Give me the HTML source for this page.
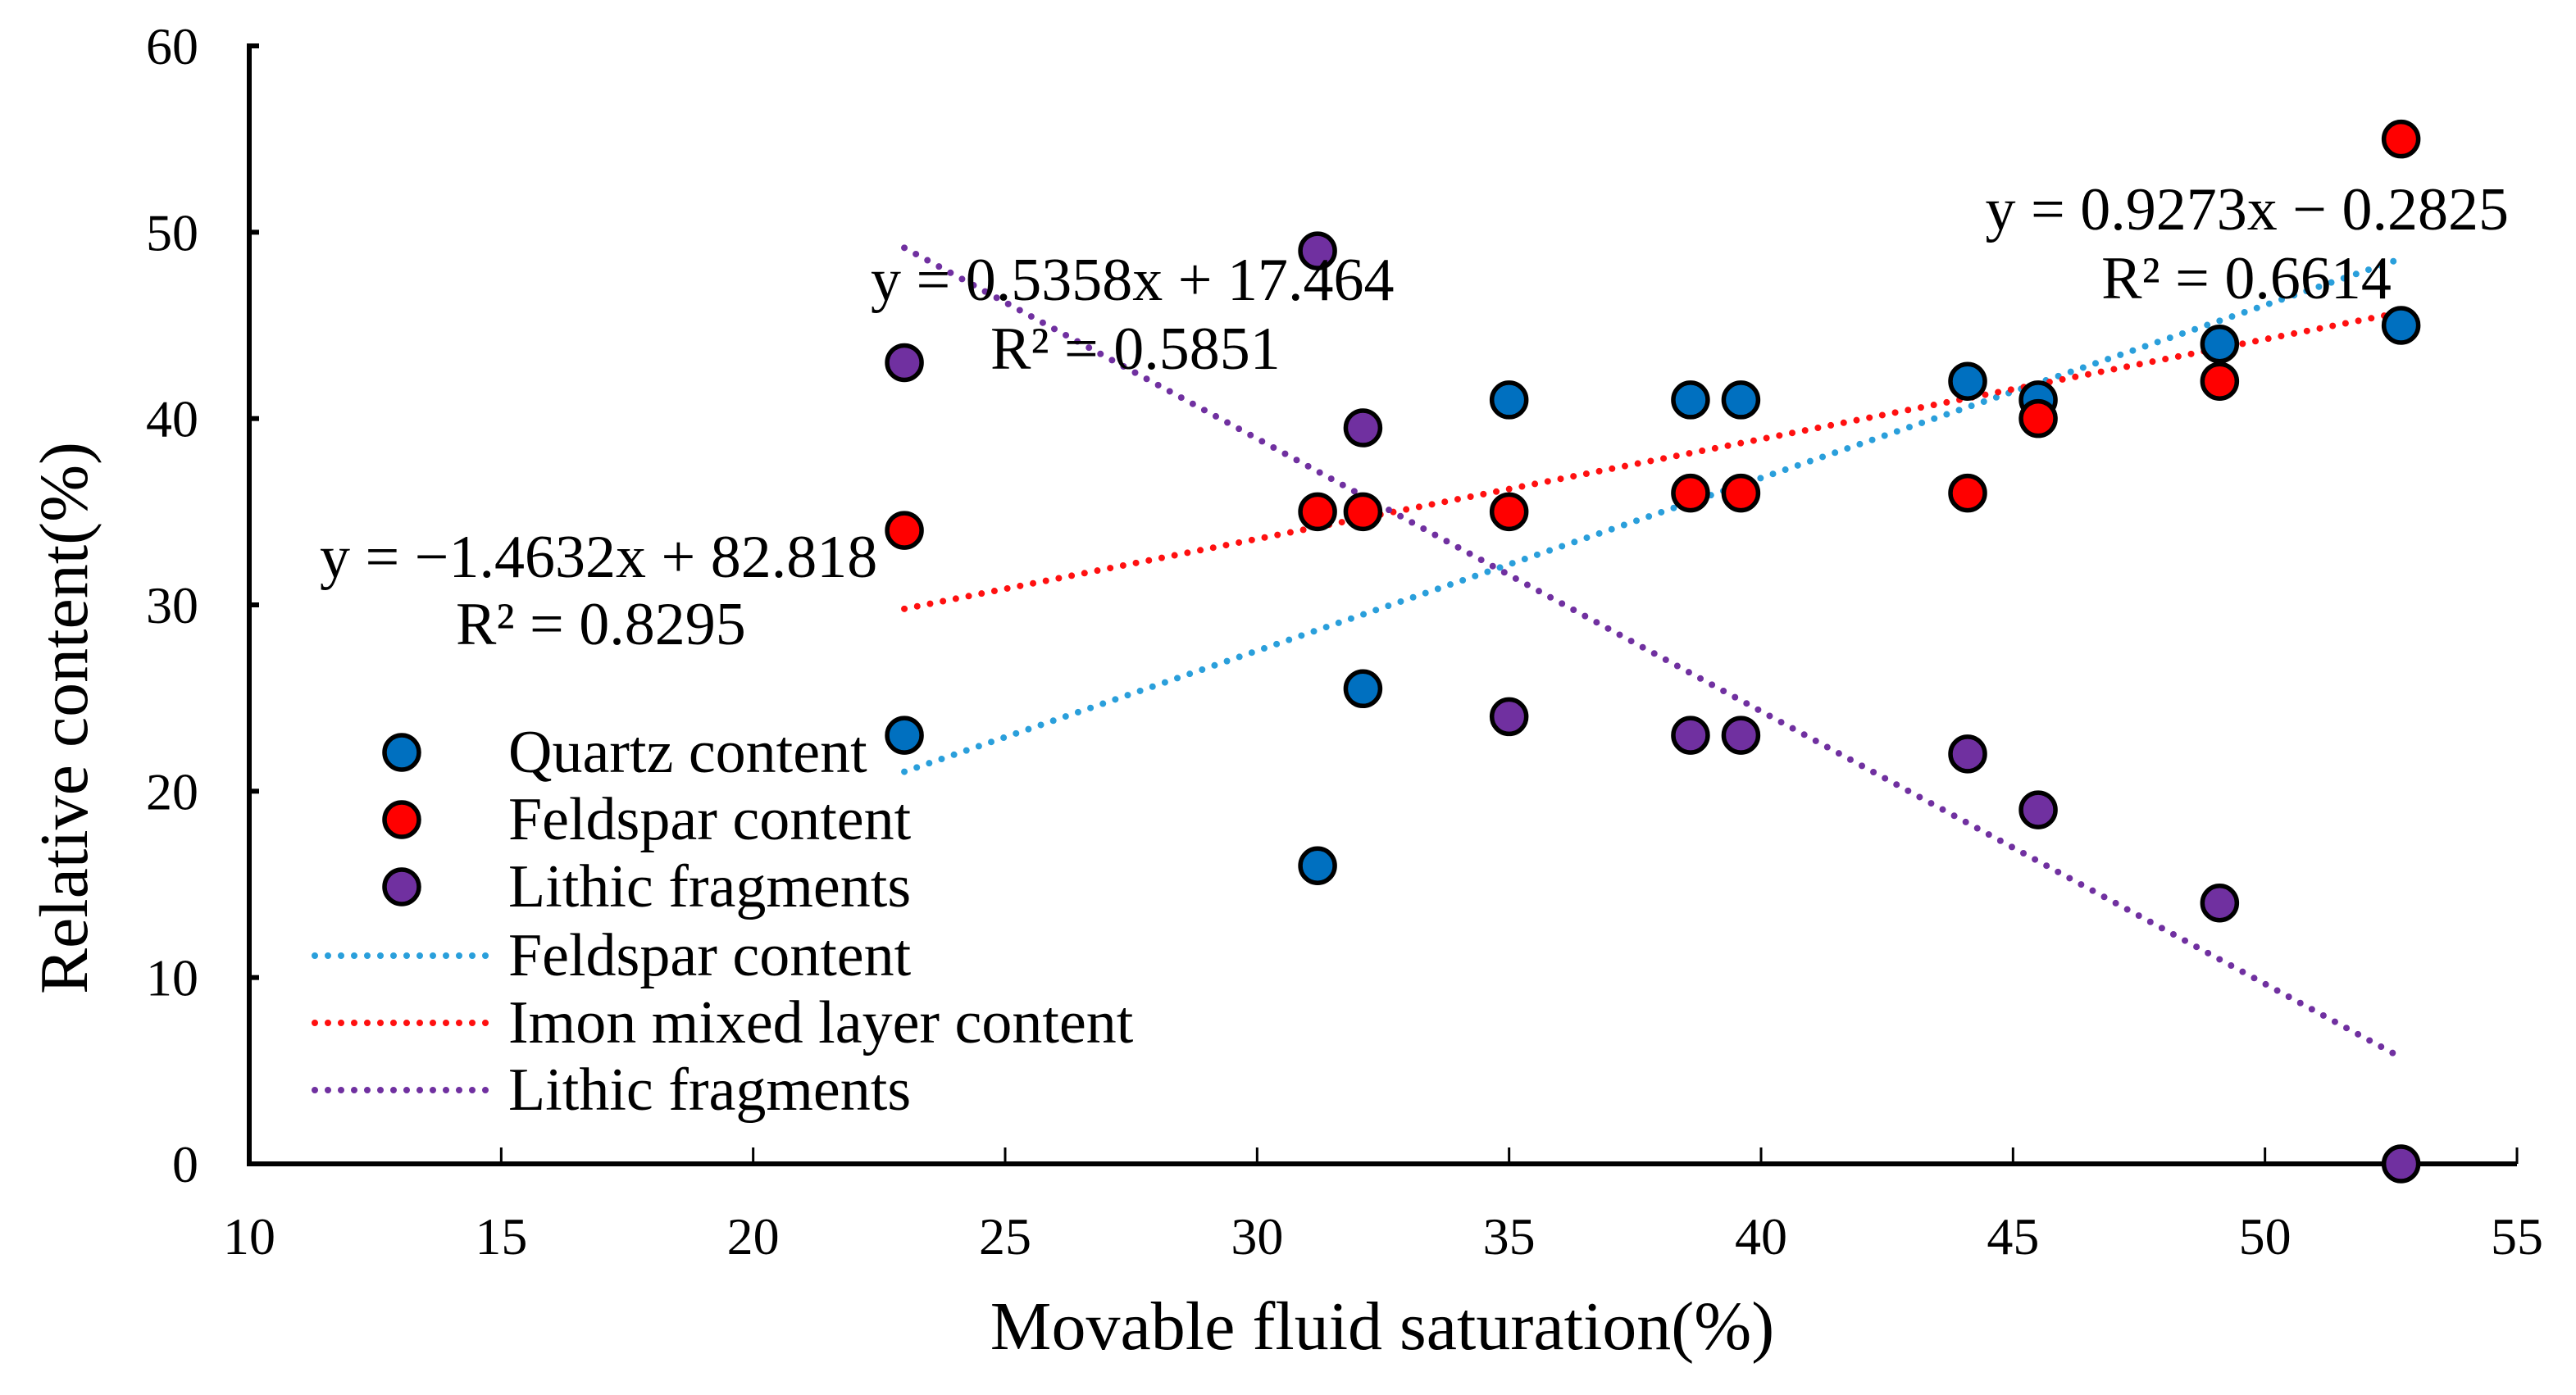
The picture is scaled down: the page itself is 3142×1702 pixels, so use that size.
<!DOCTYPE html>
<html><head><meta charset="utf-8"><style>
html,body{margin:0;padding:0;background:#fff}
svg{display:block;font-family:"Liberation Serif",serif}
</style></head><body>
<svg id="chart" width="3142" height="1702" viewBox="0 0 3142 1702" xmlns="http://www.w3.org/2000/svg">
<g id="axes"></g><g id="trends"></g><g id="points"></g><g id="legend"></g><g id="labels"></g>
</svg>
<script>
const xValues=[23,31.2,32.1,35,38.6,39.6,44.1,45.5,49.1,52.7];
const quartz=[23,16,25.5,41,41,41,42,41,44,45];
const feldspar=[34,35,35,35,36,36,36,40,42,55];
const lithic=[43,49,39.5,24,23,23,22,19,14,0];
const trendSlopes=[0.9273,0.5358,-1.4632];
const trendIntercepts=[-0.2825,17.464,82.818];
const xTicks=[10,15,20,25,30,35,40,45,50,55];
const yTicks=[0,10,20,30,40,50,60];
const NS="http://www.w3.org/2000/svg";
const X0=304,X1=3070,Y0=1420,Y1=56;
const sx=v=>X0+(v-10)/45*(X1-X0);
const sy=v=>Y0-(v/60)*(Y0-Y1);
function mk(tag,attrs,parent){const e=document.createElementNS(NS,tag);for(const k in attrs)e.setAttribute(k,attrs[k]);parent.appendChild(e);return e;}
const axes=document.getElementById('axes');
let e;
e=mk('line',{x1:X0,y1:Y0,x2:X1,y2:Y0,stroke:'#000','stroke-width':6},axes);


e=mk('line',{x1:X0,y1:Y0+3,x2:X0,y2:Y1-3,stroke:'#000','stroke-width':6},axes);


xTicks.forEach(t=>{
 const x=sx(t);
 e=mk('line',{x1:x,y1:Y0,x2:x,y2:Y0-20,stroke:'#000','stroke-width':3},axes);
 
 
 e=mk('text',{x:x,y:1530,'font-size':64,'text-anchor':'middle'},axes);e.textContent=t;
 
 
});
yTicks.forEach(t=>{
 const y=sy(t);
 e=mk('line',{x1:X0,y1:y,x2:X0+12,y2:y,stroke:'#000','stroke-width':6},axes);
 
 
 e=mk('text',{x:242,y:y+22,'font-size':64,'text-anchor':'end'},axes);e.textContent=t;
 
 
});
const trendColors=['#2A9FDB','#FF1010','#7030A0'];
const tg=document.getElementById('trends');
const trendNames=['quartz-trendline','feldspar-trendline','lithic-trendline'];
const xmin=Math.min(...xValues),xmax=Math.max(...xValues);
trendSlopes.forEach((m,i)=>{
 const b=trendIntercepts[i];
 e=mk('line',{x1:sx(xmin),y1:sy(m*xmin+b),x2:sx(xmax),y2:sy(m*xmax+b),stroke:trendColors[i],'stroke-width':8,'stroke-linecap':'round','stroke-dasharray':'0 16'},tg);
 
 
});
const pg=document.getElementById('points');
const series=[[quartz,'#0070C0','quartz-point'],[feldspar,'#FF0000','feldspar-point'],[lithic,'#7030A0','lithic-point']];
series.forEach(([vals,col,nm])=>{
 vals.forEach((v,j)=>{
  e=mk('circle',{cx:sx(xValues[j]),cy:sy(v),r:21,fill:col,stroke:'#000','stroke-width':5.5},pg);
  
  
 });
});
const lg=document.getElementById('legend');
const legendText=['Quartz content','Feldspar content','Lithic fragments','Feldspar content','Imon mixed layer content','Lithic fragments'];
const legendCol=['#0070C0','#FF0000','#7030A0','#2A9FDB','#FF1010','#7030A0'];
const legendY=[918,1000,1082,1166,1248,1330];
legendText.forEach((t,i)=>{
 const y=legendY[i];
 if(i<3){
  e=mk('circle',{cx:490,cy:y,r:21,fill:legendCol[i],stroke:'#000','stroke-width':5.5},lg);
  
  
 } else {
  e=mk('line',{x1:384,y1:y,x2:594,y2:y,stroke:legendCol[i],'stroke-width':8,'stroke-linecap':'round','stroke-dasharray':'0 16'},lg);
  
  
 }
 e=mk('text',{x:620,y:y+24,'font-size':74},lg);e.textContent=t;
 
 
});
const lb=document.getElementById('labels');
const eqs=[['y = 0.9273x − 0.2825',3060,280,'end'],['R² = 0.6614',2740,364,'middle'],
['y = 0.5358x + 17.464',1062,366,'start'],['R² = 0.5851',1208,450,'start'],
['y = −1.4632x + 82.818',390,704,'start'],['R² = 0.8295',556,786,'start']];
eqs.forEach(([t,x,y,a])=>{
 e=mk('text',{x:x,y:y,'font-size':74,'text-anchor':a},lb);e.textContent=t;
 
 
});
e=mk('text',{x:1686,y:1646,'font-size':84,'text-anchor':'middle'},lb);e.textContent='Movable fluid saturation(%)';


e=mk('text',{x:0,y:0,'font-size':84,'text-anchor':'middle',transform:'translate(106,876) rotate(-90)'},lb);e.textContent='Relative content(%)';


</script>
</body></html>
